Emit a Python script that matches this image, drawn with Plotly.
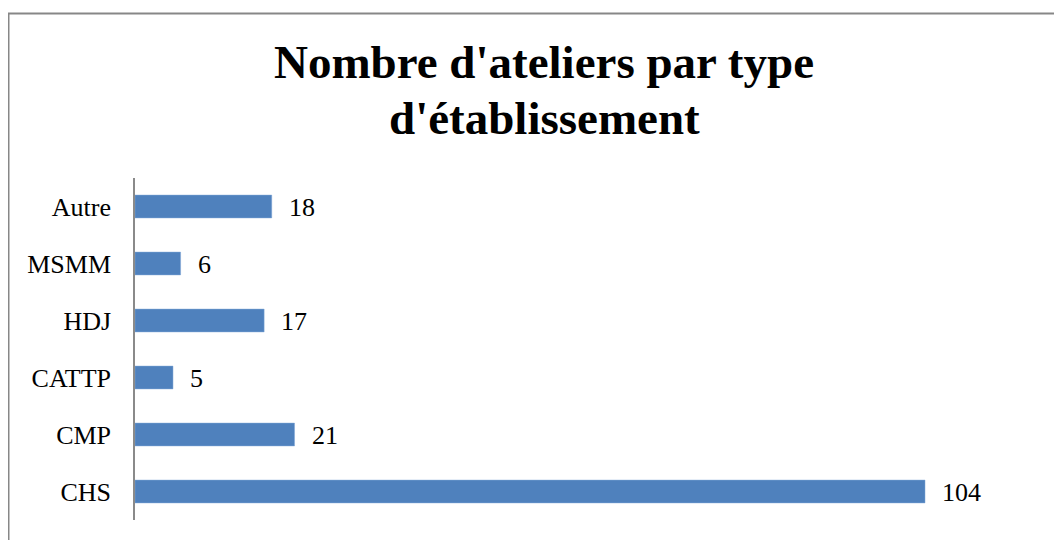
import plotly.graph_objects as go

categories = ["CHS", "CMP", "CATTP", "HDJ", "MSMM", "Autre"]
values = [104, 21, 5, 17, 6, 18]
title_lines = ["Nombre d'ateliers par type", "d'établissement"]

OFF = 8  # page body margin
W, H = 1062 - OFF, 540 - OFF
L, R, T, B = 127, 27, 170, 20
pw, ph = W - L - R, H - T - B
xmax = pw / (790 / 104)

SERIF = "Liberation Serif, Times New Roman, serif"

fig = go.Figure(go.Bar(
    x=values, y=categories, orientation="h",
    marker=dict(color="#4F81BD", line=dict(color="#7FA6D6", width=0.5)),
    width=0.4, hoverinfo="skip",
))

for c, v in zip(categories, values):
    fig.add_annotation(x=v, y=c, text=str(v), showarrow=False, xanchor="left",
                       xshift=15, yshift=-1,
                       font=dict(family=SERIF, size=26, color="#000"))

def px_x(p):
    return (p - OFF - L) / pw

def px_y(p):
    return (H - B - (p - OFF)) / ph

fig.add_shape(type="rect", xref="paper", yref="paper",
              x0=px_x(8.5), x1=px_x(1080), y0=px_y(560), y1=px_y(13.5),
              line=dict(color="#878787", width=2), fillcolor="rgba(0,0,0,0)", layer="below")

for line, yc in zip(title_lines, [62.5, 118.5]):
    fig.add_annotation(xref="paper", yref="paper", x=px_x(544), y=px_y(yc),
                       text="<b>" + line + "</b>", showarrow=False,
                       xanchor="center", yanchor="middle",
                       font=dict(family=SERIF, size=47, color="#000"))

fig.update_layout(
    width=W, height=H,
    margin=dict(l=L, r=R, t=T, b=B, pad=0),
    paper_bgcolor="white", plot_bgcolor="white",
    showlegend=False,
    xaxis=dict(range=[0, xmax], visible=False, fixedrange=True),
    yaxis=dict(showline=True, linecolor="#8a8a8a", linewidth=1.5, showgrid=False,
               zeroline=False, ticks="", ticklabelstandoff=17,
               range=[-0.5, 5.5], fixedrange=True,
               tickfont=dict(family=SERIF, size=26, color="#000")),
)

fig.write_html("out.html")
